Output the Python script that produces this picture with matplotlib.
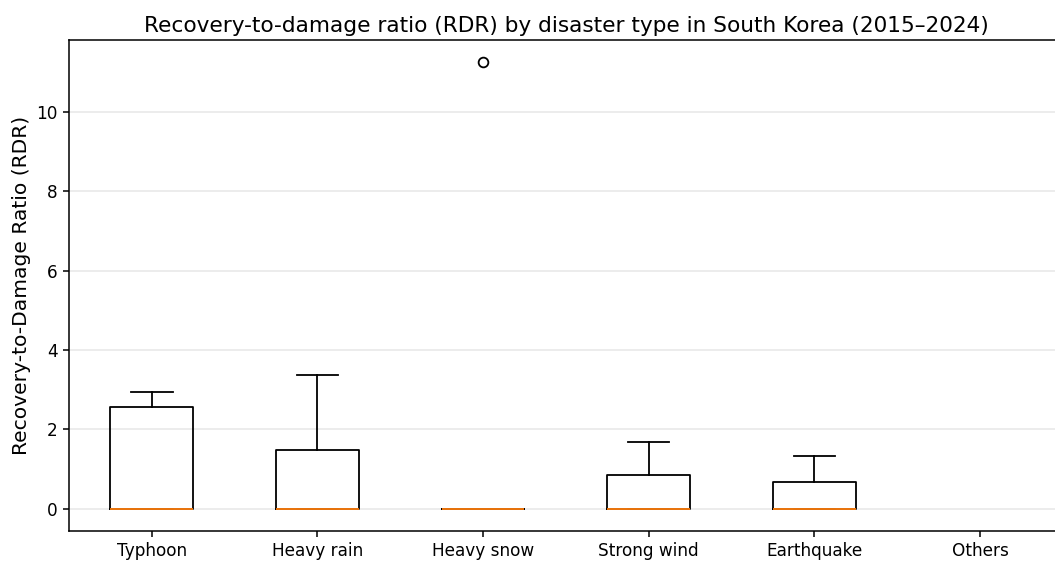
import numpy as np
import matplotlib.pyplot as plt

# RDR summary statistics per disaster type
disaster_types = ['Typhoon', 'Heavy rain', 'Heavy snow', 'Strong wind', 'Earthquake', 'Others']
q1 = [0.0, 0.0, 0.0, 0.0, 0.0, np.nan]
median = [0.0, 0.0, 0.0, 0.0, 0.0, np.nan]
q3 = [2.55, 1.47, 0.0, 0.84, 0.67, np.nan]
whisker_low = [0.0, 0.0, 0.0, 0.0, 0.0, np.nan]
whisker_high = [2.93, 3.36, 0.0, 1.68, 1.32, np.nan]
outliers = [[], [], [11.25], [], [], []]

stats = []
for i, name in enumerate(disaster_types):
    stats.append({
        'label': name,
        'q1': q1[i],
        'med': median[i],
        'q3': q3[i],
        'whislo': whisker_low[i],
        'whishi': whisker_high[i],
        'fliers': outliers[i],
    })

fig = plt.figure(figsize=(10.55, 5.61), dpi=100)
ax = fig.add_axes([0.0654, 0.0535, 0.942, 0.8752])

lw = 1.3
ax.bxp(stats, showfliers=True,
       boxprops=dict(linewidth=lw),
       whiskerprops=dict(linewidth=lw),
       capprops=dict(linewidth=lw),
       medianprops=dict(linewidth=lw, color='C1', zorder=4),
       flierprops=dict(markersize=7, markeredgewidth=lw))

ax.set_ylim(-0.5625, 11.8125)
ax.set_xlim(0.5, 6.5)
ax.yaxis.grid(True, alpha=0.3, linewidth=1.1)
ax.set_axisbelow(True)
ax.spines['right'].set_visible(False)
for side in ['left', 'bottom', 'top']:
    ax.spines[side].set_linewidth(1.1)
ax.tick_params(labelsize=12.2, width=1.1, length=4.5)

ax.set_title('Recovery-to-damage ratio (RDR) by disaster type in South Korea (2015–2024)',
             fontsize=15.6)
ax.set_ylabel('Recovery-to-Damage Ratio (RDR)', fontsize=14.6)

fig.savefig('out.png', dpi=100)
